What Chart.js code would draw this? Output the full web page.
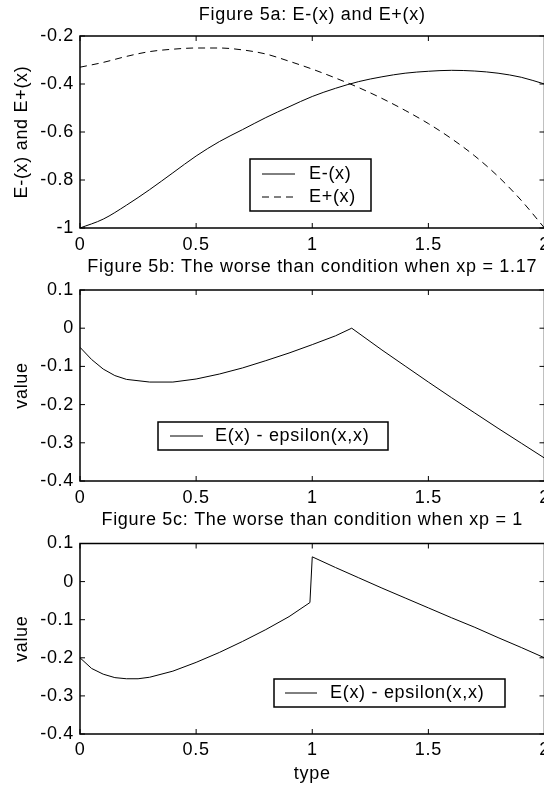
<!DOCTYPE html>
<html>
<head>
<meta charset="utf-8">
<script src="https://cdn.jsdelivr.net/npm/chart.js@4.4.1/dist/chart.umd.min.js"></script>
<style>
  html, body { margin: 0; padding: 0; background: #fff; overflow: hidden; width: 544px; height: 787px; }
  canvas { position: absolute; left: 0; }
  #figA { top: 0px; }
  #figB { top: 250px; }
  #figC { top: 502px; }
</style>
</head>
<body>
<canvas id="figA" width="600" height="258"></canvas>
<canvas id="figB" width="600" height="261"></canvas>
<canvas id="figC" width="600" height="285"></canvas>
<script>
// x grid shared by all three panels
const xTicks = [0, 0.5, 1, 1.5, 2];

// Figure 5a
const xA = [0, 0.1, 0.2, 0.3, 0.4, 0.5, 0.6, 0.7, 0.8, 0.9, 1.0, 1.1, 1.2, 1.3, 1.4, 1.5, 1.6, 1.7, 1.8, 1.9, 2.0];
const eMinus = [-1.0, -0.963, -0.905, -0.84, -0.77, -0.70, -0.64, -0.59, -0.54, -0.495, -0.452, -0.418, -0.39, -0.37, -0.355, -0.347, -0.343, -0.346, -0.355, -0.372, -0.40];
const ePlus = [-0.33, -0.31, -0.285, -0.265, -0.255, -0.25, -0.25, -0.258, -0.275, -0.305, -0.338, -0.375, -0.415, -0.46, -0.51, -0.565, -0.628, -0.70, -0.785, -0.885, -1.0];
const yTicksA = [-1, -0.8, -0.6, -0.4, -0.2];

// Figure 5b (xp = 1.17)
const xB = [0, 0.05, 0.1, 0.15, 0.2, 0.3, 0.4, 0.5, 0.6, 0.7, 0.8, 0.9, 1.0, 1.1, 1.17, 1.3, 1.4, 1.5, 1.6, 1.7, 1.8, 1.9, 2.0];
const gapB = [-0.05, -0.082, -0.107, -0.124, -0.134, -0.141, -0.141, -0.133, -0.12, -0.104, -0.085, -0.065, -0.043, -0.02, 0.0, -0.057, -0.099, -0.141, -0.182, -0.222, -0.262, -0.301, -0.34];

// Figure 5c (xp = 1)
const xC = [0, 0.05, 0.1, 0.15, 0.2, 0.25, 0.3, 0.4, 0.5, 0.6, 0.7, 0.8, 0.9, 0.99, 1.0, 1.1, 1.2, 1.3, 1.4, 1.5, 1.6, 1.7, 1.8, 1.9, 2.0];
const gapC = [-0.2, -0.228, -0.243, -0.252, -0.255, -0.255, -0.251, -0.235, -0.212, -0.186, -0.157, -0.126, -0.092, -0.055, 0.065, 0.037, 0.01, -0.017, -0.043, -0.069, -0.095, -0.12, -0.147, -0.173, -0.2];
const yTicksBC = [-0.4, -0.3, -0.2, -0.1, 0, 0.1];

const FONT = '"Liberation Sans", Arial, sans-serif';
const SPACING = '0.7px';

Chart.defaults.font.family = FONT;
Chart.defaults.font.size = 18;
Chart.defaults.font.lineHeight = 1.2;
Chart.defaults.color = '#000';
Chart.defaults.animation = false;

function pts(xs, ys) {
    return xs.map(function(x, i) { return { x: x, y: ys[i] }; });
}

function fmt(v) {
    return String(+(+v).toFixed(2));
}

// wide glyph spacing like the old figure renderer
const spacing = {
    id: 'spacing',
    beforeLayout(chart) { chart.ctx.letterSpacing = SPACING; },
    beforeDraw(chart) { chart.ctx.letterSpacing = SPACING; }
};

// axes box with inward ticks on all four sides
const frame = {
    id: 'frame',
    afterDatasetsDraw(chart) {
        const ctx = chart.ctx;
        const a = chart.chartArea;
        const x = chart.scales.x, y = chart.scales.y;
        const len = 5;
        ctx.save();
        ctx.strokeStyle = '#000';
        ctx.lineWidth = 1;
        ctx.beginPath();
        x.ticks.forEach(function(t) {
            const px = x.getPixelForValue(t.value);
            ctx.moveTo(px, a.bottom); ctx.lineTo(px, a.bottom - len);
            ctx.moveTo(px, a.top); ctx.lineTo(px, a.top + len);
        });
        y.ticks.forEach(function(t) {
            const py = y.getPixelForValue(t.value);
            ctx.moveTo(a.left, py); ctx.lineTo(a.left + len, py);
            ctx.moveTo(a.right, py); ctx.lineTo(a.right - len, py);
        });
        ctx.stroke();
        ctx.lineWidth = 1.5;
        ctx.strokeRect(a.left, a.top, a.right - a.left, a.bottom - a.top);
        ctx.restore();
    }
};

// boxed legend drawn inside the axes
const boxLegend = {
    id: 'boxLegend',
    afterDraw(chart, args, opts) {
        const ctx = chart.ctx;
        const a = chart.chartArea;
        const left = a.left + opts.left, top = a.top + opts.top;
        ctx.save();
        ctx.fillStyle = '#fff';
        ctx.fillRect(left, top, opts.width, opts.height);
        ctx.strokeStyle = '#000';
        ctx.lineWidth = 1.5;
        ctx.strokeRect(left, top, opts.width, opts.height);
        ctx.font = '18px ' + FONT;
        ctx.letterSpacing = SPACING;
        ctx.textBaseline = 'middle';
        ctx.fillStyle = '#000';
        chart.data.datasets.forEach(function(ds, i) {
            const cy = top + opts.rowTop + i * opts.rowGap;
            ctx.lineWidth = 1;
            ctx.setLineDash(ds.borderDash || []);
            ctx.beginPath();
            ctx.moveTo(left + opts.lineFrom, cy);
            ctx.lineTo(left + opts.lineTo, cy);
            ctx.stroke();
            ctx.setLineDash([]);
            ctx.fillText(ds.label, left + opts.textX, cy);
        });
        ctx.restore();
    }
};

function makePanel(id, cfg) {
    new Chart(document.getElementById(id), {
        type: 'line',
        data: { datasets: cfg.datasets },
        plugins: [spacing, frame, boxLegend],
        options: {
            responsive: false,
            devicePixelRatio: 1,
            layout: { padding: { left: 0, right: 55.5, top: 0, bottom: 0 } },
            elements: { point: { radius: 0 } },
            plugins: {
                legend: { display: false },
                tooltip: { enabled: false },
                title: {
                    display: true,
                    text: cfg.title,
                    fullSize: false,
                    font: { size: 18, weight: 'normal', lineHeight: 1.2 },
                    color: '#000',
                    padding: cfg.titlePad
                },
                boxLegend: cfg.legend
            },
            scales: {
                x: {
                    type: 'linear',
                    min: 0,
                    max: 2,
                    grid: { display: false, drawTicks: false },
                    border: { display: false },
                    afterBuildTicks: function(s) { s.ticks = xTicks.map(function(v) { return { value: v }; }); },
                    afterFit: function(s) { s.height = cfg.xHeight; },
                    ticks: { padding: cfg.xPad, maxRotation: 0, autoSkip: false, callback: fmt },
                    title: cfg.xTitle || { display: false }
                },
                y: {
                    type: 'linear',
                    min: cfg.yTicks[0],
                    max: cfg.yTicks[cfg.yTicks.length - 1],
                    grid: { display: false, drawTicks: false },
                    border: { display: false },
                    afterBuildTicks: function(s) { s.ticks = cfg.yTicks.map(function(v) { return { value: v }; }); },
                    afterFit: function(s) { s.width = 80; },
                    ticks: { padding: 6, autoSkip: false, callback: fmt },
                    title: { display: true, text: cfg.yLabel, padding: { top: 11.2, bottom: 0 } }
                }
            }
        }
    });
}

makePanel('figA', {
    title: 'Figure 5a: E-(x) and E+(x)',
    titlePad: { top: 4.2, bottom: 10.2 },
    xHeight: 30,
    xPad: 6.2,
    yLabel: 'E-(x) and E+(x)',
    yTicks: yTicksA,
    datasets: [
        { label: 'E-(x)', data: pts(xA, eMinus), borderColor: '#000', borderWidth: 1, cubicInterpolationMode: 'monotone' },
        { label: 'E+(x)', data: pts(xA, ePlus), borderColor: '#000', borderWidth: 1, borderDash: [7, 5], cubicInterpolationMode: 'monotone' }
    ],
    legend: { left: 170, top: 123, width: 121, height: 52, rowTop: 15, rowGap: 23, lineFrom: 12, lineTo: 45, textX: 59 }
});

makePanel('figB', {
    title: 'Figure 5b: The worse than condition when xp = 1.17',
    titlePad: { top: 6.2, bottom: 12.2 },
    xHeight: 30,
    xPad: 6.2,
    yLabel: 'value',
    yTicks: yTicksBC,
    datasets: [
        { label: 'E(x) - epsilon(x,x)', data: pts(xB, gapB), borderColor: '#000', borderWidth: 1, tension: 0 }
    ],
    legend: { left: 78, top: 132, width: 230, height: 28, rowTop: 14, rowGap: 0, lineFrom: 12, lineTo: 45, textX: 57 }
});

makePanel('figC', {
    title: 'Figure 5c: The worse than condition when xp = 1',
    titlePad: { top: 7.2, bottom: 12.7 },
    xHeight: 53,
    xPad: 5.2,
    xTitle: { display: true, text: 'type', padding: { top: 0, bottom: 2.2 } },
    yLabel: 'value',
    yTicks: yTicksBC,
    datasets: [
        { label: 'E(x) - epsilon(x,x)', data: pts(xC, gapC), borderColor: '#000', borderWidth: 1, tension: 0 }
    ],
    legend: { left: 194, top: 135.5, width: 231, height: 28, rowTop: 14, rowGap: 0, lineFrom: 11, lineTo: 43, textX: 56 }
});
</script>
</body>
</html>
